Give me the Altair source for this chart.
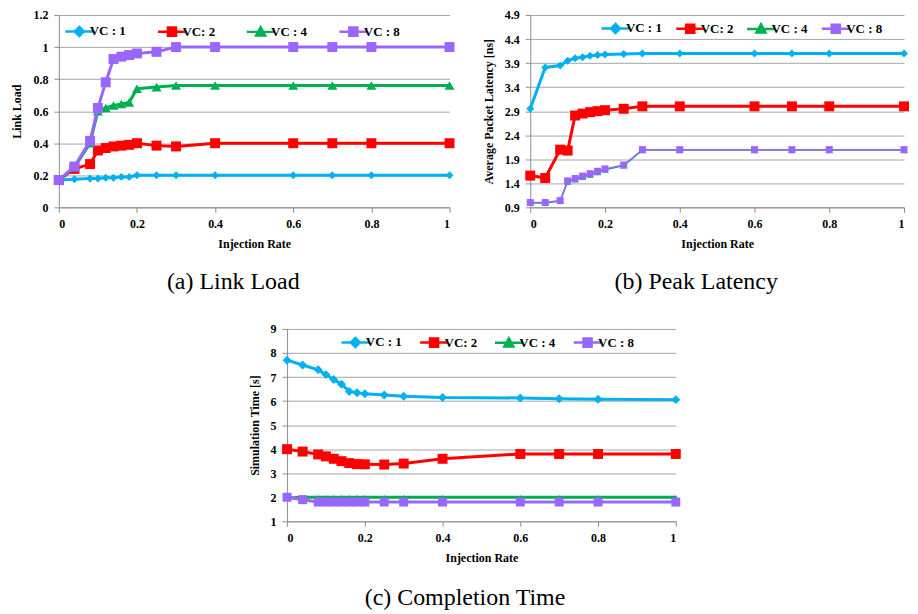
import altair as alt
import pandas as pd

injection_rate = [0, 0.04, 0.08, 0.1, 0.12, 0.14, 0.16, 0.18, 0.2, 0.25, 0.3, 0.4, 0.6, 0.7, 0.8, 1.0]
series_names = ["VC : 1", "VC: 2", "VC : 4", "VC : 8"]
series_colors = ["#00B0F0", "#FF0000", "#00B050", "#9966FF"]
marker_shapes = ["diamond", "square", "triangle-up", "square"]

# (a) Link Load
load_vc1 = [0.17, 0.175, 0.18, 0.18, 0.185, 0.185, 0.19, 0.19, 0.2, 0.2, 0.2, 0.2, 0.2, 0.2, 0.2, 0.2]
load_vc2 = [0.17, 0.24, 0.27, 0.355, 0.37, 0.38, 0.385, 0.39, 0.40, 0.385, 0.38, 0.40, 0.40, 0.40, 0.40, 0.40]
load_vc4 = [0.17, 0.25, 0.40, 0.60, 0.62, 0.635, 0.645, 0.655, 0.74, 0.75, 0.76, 0.76, 0.76, 0.76, 0.76, 0.76]
load_vc8 = [0.17, 0.255, 0.415, 0.62, 0.78, 0.925, 0.94, 0.95, 0.96, 0.97, 1.0, 1.0, 1.0, 1.0, 1.0, 1.0]

# (b) Peak Latency
lat_vc1 = [2.95, 3.81, 3.85, 3.95, 4.0, 4.02, 4.05, 4.07, 4.08, 4.09, 4.1, 4.1, 4.1, 4.1, 4.1, 4.1]
lat_vc2 = [1.56, 1.51, 2.1, 2.08, 2.81, 2.85, 2.88, 2.9, 2.92, 2.95, 3.0, 3.0, 3.0, 3.0, 3.0, 3.0]
lat_vc4 = [0.99, 0.99, 1.03, 1.43, 1.48, 1.53, 1.58, 1.63, 1.68, 1.77, 2.09, 2.09, 2.09, 2.09, 2.09, 2.09]
lat_vc8 = [1.0, 1.0, 1.04, 1.45, 1.5, 1.55, 1.6, 1.65, 1.7, 1.78, 2.1, 2.1, 2.1, 2.1, 2.1, 2.1]

# (c) Completion Time
time_vc1 = [7.7, 7.5, 7.3, 7.1, 6.9, 6.7, 6.4, 6.35, 6.3, 6.25, 6.2, 6.15, 6.13, 6.1, 6.08, 6.06]
time_vc2 = [4.0, 3.9, 3.78, 3.7, 3.6, 3.5, 3.42, 3.38, 3.37, 3.36, 3.4, 3.6, 3.8, 3.8, 3.8, 3.8]
time_vc4 = [1.97, 2.0, 2.0, 2.0, 2.0, 2.0, 2.0, 2.0, 2.0, 2.0, 2.0, 2.0, 2.0, 2.0, 2.0, 2.0]
time_vc8 = [2.0, 1.9, 1.8, 1.8, 1.8, 1.8, 1.8, 1.8, 1.8, 1.8, 1.8, 1.8, 1.8, 1.8, 1.8, 1.8]

x_ticks = [0, 0.2, 0.4, 0.6, 0.8, 1.0]
load_ticks = [0, 0.2, 0.4, 0.6, 0.8, 1.0, 1.2]
lat_ticks = [0.9, 1.4, 1.9, 2.4, 2.9, 3.4, 3.9, 4.4, 4.9]
time_ticks = [1, 2, 3, 4, 5, 6, 7, 8, 9]

# legend symbols: a short line with the marker in the middle
legend_paths = [
    "M-3.1,0L3.1,0M0,-1L1,0L0,1L-1,0Z",
    "M-3.1,0L3.1,0M-0.9,-0.9L0.9,-0.9L0.9,0.9L-0.9,0.9Z",
    "M-3.1,0L3.1,0M0,-1L1,0.8L-1,0.8Z",
    "M-3.1,0L3.1,0M-0.9,-0.9L0.9,-0.9L0.9,0.9L-0.9,0.9Z",
]

SERIF = "Liberation Serif"
CAPTION_FONT = "Liberation Serif"
IND = dict(fill="independent", stroke="independent", shape="independent")


def panel(values, ydomain, yticks, ytitle, caption, width, height,
          leg_x, leg_y, col_pad, msizes, lwidths, cap_offset):
    rows = []
    for name, vals in zip(series_names, values):
        for r, v in zip(injection_rate, vals):
            rows.append({"rate": r, "value": v, "series": name})
    df = pd.DataFrame(rows)
    base = alt.Chart(df)
    X = alt.X("rate:Q", scale=alt.Scale(domain=[0, 1], nice=False),
              axis=alt.Axis(values=x_ticks, format="~g", title="Injection Rate", grid=False))
    Y = alt.Y("value:Q", scale=alt.Scale(domain=ydomain, nice=False, zero=False),
              axis=alt.Axis(values=yticks, format="~g", title=ytitle, grid=True))
    layers = []
    for name, col, shp, ms, lw in zip(series_names, series_colors, marker_shapes, msizes, lwidths):
        sub = base.transform_filter(alt.datum.series == name)
        layers.append(sub.mark_line(color=col, strokeWidth=lw).encode(x=X, y=Y))
        layers.append(sub.mark_point(filled=True, shape=shp, size=ms, color=col,
                                     opacity=1, strokeWidth=0.5).encode(x=X, y=Y))
    leg = alt.Legend(orient="none", legendX=leg_x, legendY=leg_y, direction="horizontal",
                     title=None, labelFont=SERIF, labelFontWeight="bold", labelFontSize=13,
                     labelColor="black", symbolSize=81, symbolStrokeWidth=2.5,
                     labelOffset=4, columnPadding=col_pad, padding=0)
    layers.append(
        base.transform_filter("false").mark_point(filled=True, opacity=1, strokeWidth=2.5).encode(
            x=X, y=Y,
            fill=alt.Fill("series:N", scale=alt.Scale(domain=series_names, range=series_colors), legend=leg),
            stroke=alt.Stroke("series:N", scale=alt.Scale(domain=series_names, range=series_colors), legend=leg),
            shape=alt.Shape("series:N", scale=alt.Scale(domain=series_names, range=legend_paths), legend=leg),
        )
    )
    return alt.layer(*layers).properties(
        width=width, height=height,
        title=alt.TitleParams(caption, orient="bottom", font=CAPTION_FONT, fontSize=24,
                              fontWeight="normal", color="black", offset=cap_offset,
                              anchor="middle", frame="bounds"),
    )


chart_a = panel([load_vc1, load_vc2, load_vc4, load_vc8], [0, 1.2], load_ticks, "Link Load",
                "(a) Link Load", 392, 193, 14, 10, 26, [64, 100, 100, 100], [3, 3, 3, 3], 21)
chart_b = panel([lat_vc1, lat_vc2, lat_vc4, lat_vc8], [0.9, 4.9], lat_ticks, "Average Packet Latency [ns]",
                "(b) Peak Latency", 375, 193, 79, 7, 8, [64, 100, 49, 49], [3, 3, 1.5, 1.5], 21)
chart_c = panel([time_vc1, time_vc2, time_vc4, time_vc8], [1, 9], time_ticks, "Simulation Time [s]",
                "(c) Completion Time", 390, 193, 62, 7, 12, [81, 100, 30, 81], [3, 3, 3, 3], 23)

top = alt.hconcat(chart_a, chart_b, spacing=27).resolve_scale(**IND).resolve_legend(**IND)
chart = alt.vconcat(top, chart_c, spacing=29, center=True).resolve_scale(**IND).resolve_legend(**IND).properties(
    padding={"left": 3, "top": 0, "right": 0, "bottom": 0}
).configure(
    style={"group-title": {"font": CAPTION_FONT, "fontSize": 24, "fontWeight": "normal"}}
).configure_view(stroke=None).configure_axis(
    labelFont=SERIF, labelFontWeight="bold", labelFontSize=12, labelColor="black",
    titleFont=SERIF, titleFontWeight="bold", titleFontSize=12, titleColor="black",
    domainColor="#8C8C8C", tickColor="#8C8C8C", gridColor="#A6A6A6", tickSize=5,
    labelPadding=6, titlePadding=9,
).configure_title(
    font=CAPTION_FONT, fontSize=24, fontWeight="normal", color="black"
)

chart.save("out.html", embed_options={"renderer": "svg", "actions": False})
